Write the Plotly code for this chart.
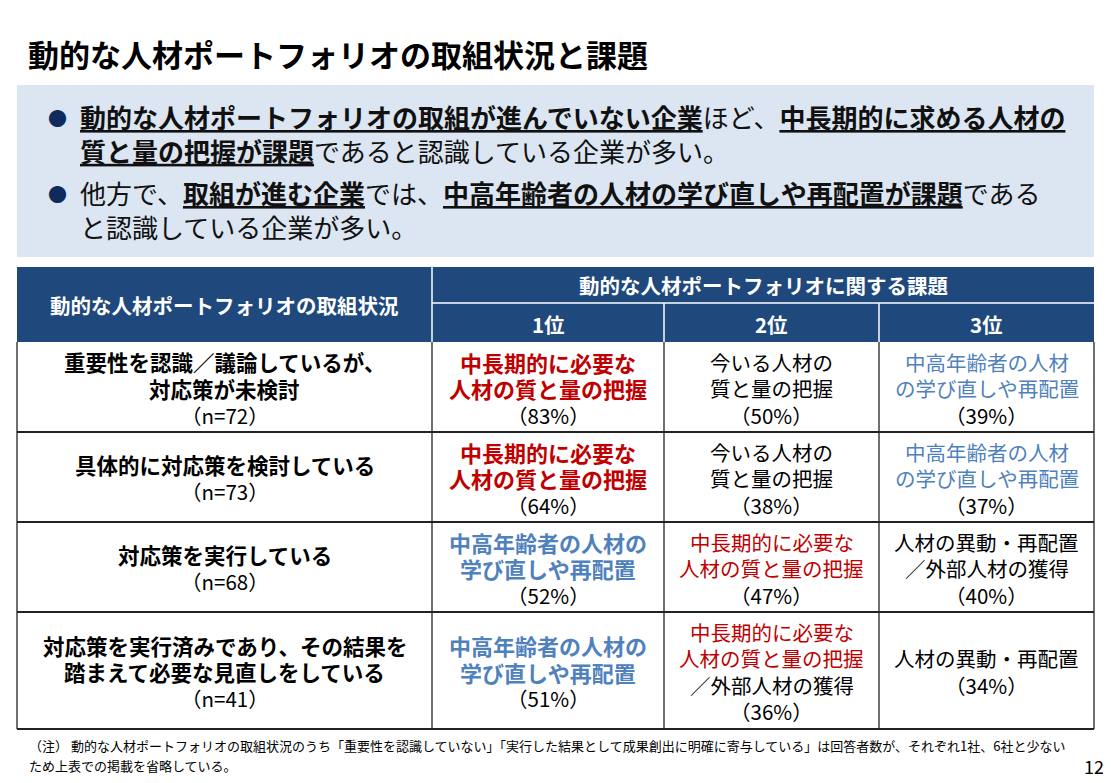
import plotly.graph_objects as go

# ---- slide text ----
title = "動的な人材ポートフォリオの取組状況と課題"
bullets = [
    "<u><b>動的な人材ポートフォリオの取組が進んでいない企業</b></u>ほど、<u><b>中長期的に求める人材の</b></u>"
    "<br><u><b>質と量の把握が課題</b></u>であると認識している企業が多い。",
    "他方で、<u><b>取組が進む企業</b></u>では、<u><b>中高年齢者の人材の学び直しや再配置が課題</b></u>である"
    "<br>と認識している企業が多い。",
]
header_status = "動的な人材ポートフォリオの取組状況"
header_issues = "動的な人材ポートフォリオに関する課題"
ranks = ["1位", "2位", "3位"]

# ---- table data ----
status = [
    "重要性を認識／議論しているが、<br>対応策が未検討",
    "具体的に対応策を検討している",
    "対応策を実行している",
    "対応策を実行済みであり、その結果を<br>踏まえて必要な見直しをしている",
]
n_resp = [72, 73, 68, 41]

rank1_issue = ["中長期的に必要な<br>人材の質と量の把握", "中長期的に必要な<br>人材の質と量の把握",
               "中高年齢者の人材の<br>学び直しや再配置", "中高年齢者の人材の<br>学び直しや再配置"]
rank1_kind = ["mid", "mid", "senior", "senior"]
rank1_pct = [83, 64, 52, 51]

rank2_issue = ["今いる人材の<br>質と量の把握", "今いる人材の<br>質と量の把握",
               "中長期的に必要な<br>人材の質と量の把握", "中長期的に必要な<br>人材の質と量の把握"]
rank2_kind = ["plain", "plain", "mid", "mid"]
rank2_tie = ["", "", "", "／外部人材の獲得"]
rank2_pct = [50, 38, 47, 36]

rank3_issue = ["中高年齢者の人材<br>の学び直しや再配置", "中高年齢者の人材<br>の学び直しや再配置",
               "人材の異動・再配置<br>／外部人材の獲得", "人材の異動・再配置"]
rank3_kind = ["senior", "senior", "plain", "plain"]
rank3_pct = [39, 37, 40, 34]

footnote = ["（注） 動的な人材ポートフォリオの取組状況のうち「重要性を認識していない」「実行した結果として成果創出に明確に寄与している」は回答者数が、それぞれ1社、6社と少ない",
            "ため上表での掲載を省略している。"]
page_no = "12"

# ---- layout / style ----
FONT = "Noto Sans CJK JP"
NAVY = "#1F497D"
RED = "#C00000"
BLUE = "#4F81BD"
KIND_COLOR = {"mid": RED, "senior": BLUE, "plain": "#000000"}
COL_EDGES = [17, 432, 664, 879, 1094]
HEAD_TOP, HEAD_MID, HEAD_BOT = 267, 303, 342
ROW_EDGES = [342, 432, 522, 612, 729]
LINE_H = 26.5
PAGE_OFF = 8  # default body margin of the html page

shapes = []
ann = []

# title
ann.append(dict(x=26, y=53, text="<b>" + title + "</b>", xanchor="left",
                font=dict(size=31, color="#000000")))

# summary box
shapes.append(dict(type="rect", x0=17, x1=1094, y0=85, y1=257, fillcolor="#DCE6F2",
                   line=dict(width=0), layer="below"))
for yc, txt in zip([133, 209], bullets):
    ann.append(dict(x=57, y=yc - 16, text="●", font=dict(size=19, color="#0F2A5C")))
    ann.append(dict(x=78, y=yc, text=txt, xanchor="left", align="left",
                    font=dict(size=26, color="#111111")))

# header
shapes.append(dict(type="rect", x0=COL_EDGES[0], x1=COL_EDGES[-1], y0=HEAD_TOP, y1=HEAD_BOT,
                   fillcolor=NAVY, line=dict(width=0)))
shapes.append(dict(type="line", x0=COL_EDGES[1], x1=COL_EDGES[1], y0=HEAD_TOP, y1=HEAD_BOT,
                   line=dict(color="white", width=1.5)))
shapes.append(dict(type="line", x0=COL_EDGES[1], x1=COL_EDGES[-1], y0=HEAD_MID, y1=HEAD_MID,
                   line=dict(color="white", width=1.5)))
for xe in COL_EDGES[2:-1]:
    shapes.append(dict(type="line", x0=xe, x1=xe, y0=HEAD_MID, y1=HEAD_BOT,
                       line=dict(color="white", width=1.5)))
HEAD_FONT = dict(size=20.5, color="white")
ann.append(dict(x=(COL_EDGES[0] + COL_EDGES[1]) / 2, y=(HEAD_TOP + HEAD_BOT) / 2,
                text="<b>" + header_status + "</b>", font=HEAD_FONT))
ann.append(dict(x=(COL_EDGES[1] + COL_EDGES[-1]) / 2, y=(HEAD_TOP + HEAD_MID) / 2,
                text="<b>" + header_issues + "</b>", font=HEAD_FONT))
for i, r in enumerate(ranks):
    ann.append(dict(x=(COL_EDGES[i + 1] + COL_EDGES[i + 2]) / 2, y=(HEAD_MID + HEAD_BOT) / 2 + 1,
                    text="<b>" + r + "</b>", font=HEAD_FONT))

# body grid
for ye in ROW_EDGES[1:]:
    shapes.append(dict(type="line", x0=COL_EDGES[0], x1=COL_EDGES[-1], y0=ye, y1=ye,
                       line=dict(color="#222222", width=1.8)))
for xe in COL_EDGES:
    shapes.append(dict(type="line", x0=xe, x1=xe, y0=ROW_EDGES[0], y1=ROW_EDGES[-1],
                       line=dict(color="#222222", width=1.3)))


def cell_lines(issue, kind, pct, bold=False, tie=""):
    # (text, color, size, bold) per printed line
    size = 22 if bold else 20.5
    out = [(t, KIND_COLOR[kind], size, bold) for t in issue.split("<br>")]
    if tie:
        out.append((tie, "#000000", 20.5, False))
    out.append(("（%d%%）" % pct, "#000000", 20.5, False))
    return out


for r in range(len(status)):
    yc = (ROW_EDGES[r] + ROW_EDGES[r + 1]) / 2 + 1
    cells = [
        [(t, "#000000", 21.5, True) for t in status[r].split("<br>")]
        + [("（n=%d）" % n_resp[r], "#000000", 20.5, False)],
        cell_lines(rank1_issue[r], rank1_kind[r], rank1_pct[r], bold=True),
        cell_lines(rank2_issue[r], rank2_kind[r], rank2_pct[r], tie=rank2_tie[r]),
        cell_lines(rank3_issue[r], rank3_kind[r], rank3_pct[r]),
    ]
    for c, lines in enumerate(cells):
        n = len(lines)
        for k, (t, col, sz, bold) in enumerate(lines):
            ann.append(dict(x=(COL_EDGES[c] + COL_EDGES[c + 1]) / 2,
                            y=yc + (k - (n - 1) / 2) * LINE_H,
                            text="<b>%s</b>" % t if bold else t,
                            font=dict(size=sz, color=col)))

# footnote and page number
for k, t in enumerate(footnote):
    ann.append(dict(x=27, y=745 + 20 * k, text=t, xanchor="left",
                    font=dict(size=13, color="#000000")))
ann.append(dict(x=1106, y=766, text=page_no, xanchor="right",
                font=dict(size=18, color="#000000")))

for a in ann:
    a.setdefault("xanchor", "center")
    a.setdefault("yanchor", "middle")
    a.update(xref="x", yref="y", showarrow=False)
for s in shapes:
    s.update(xref="x", yref="y")

fig = go.Figure()
fig.update_layout(
    width=1111 - PAGE_OFF, height=783 - PAGE_OFF,
    margin=dict(l=0, r=0, t=0, b=0),
    paper_bgcolor="white", plot_bgcolor="white",
    font=dict(family=FONT, color="#000000"),
    xaxis=dict(range=[PAGE_OFF, 1111], visible=False, fixedrange=True),
    yaxis=dict(range=[783, PAGE_OFF], visible=False, fixedrange=True),
    shapes=shapes, annotations=ann, showlegend=False, hovermode=False,
)

fig.write_html("out.html")
